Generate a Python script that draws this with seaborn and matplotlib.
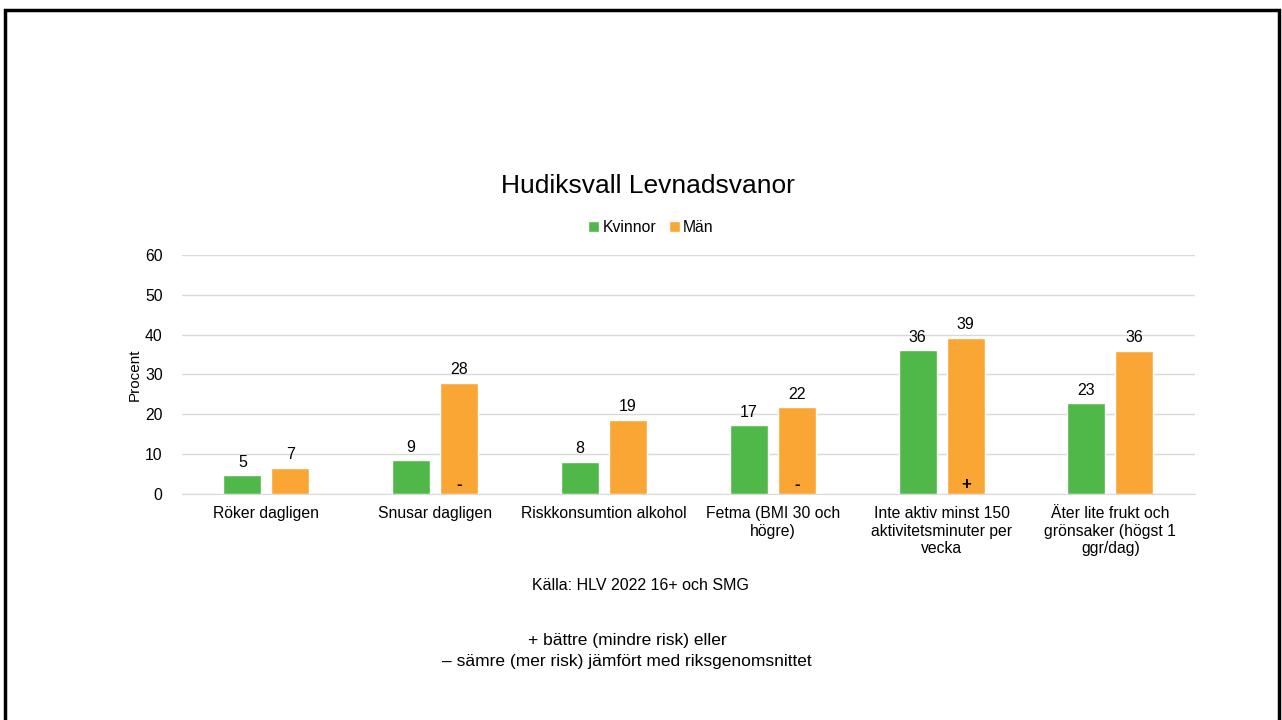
import pandas as pd
import matplotlib.pyplot as plt
import seaborn as sns
from matplotlib.patches import Rectangle

# Data
categories = [
    "Röker dagligen",
    "Snusar dagligen",
    "Riskkonsumtion alkohol",
    "Fetma (BMI 30 och\nhögre)",
    "Inte aktiv minst 150\naktivitetsminuter per\nvecka",
    "Äter lite frukt och\ngrönsaker (högst 1\nggr/dag)",
]
kvinnor = [4.7, 8.5, 8.0, 17.2, 36.0, 22.7]
man = [6.6, 27.9, 18.6, 21.8, 39.2, 35.9]
kvinnor_labels = ["5", "9", "8", "17", "36", "23"]
man_labels = ["7", "28", "19", "22", "39", "36"]
man_markers = ["", "-", "", "-", "+", ""]

green = "#50B848"
orange = "#F9A634"

data = pd.DataFrame({
    "Kategori": categories * 2,
    "Procent": kvinnor + man,
    "Kön": ["Kvinnor"] * len(categories) + ["Män"] * len(categories),
})

sns.set_style("white")
plt.rcParams["font.family"] = ["Liberation Sans", "DejaVu Sans"]
plt.rcParams["text.color"] = "black"
plt.rcParams["axes.labelcolor"] = "black"

fig = plt.figure(figsize=(12.82, 7.2), dpi=100)
ax = fig.add_axes([0.142, 0.314, 0.790, 0.332])

sns.barplot(data=data, x="Kategori", y="Procent", hue="Kön",
            palette=[green, orange], width=0.57, gap=0.21,
            saturation=1, ax=ax, legend=True)

ax.set_ylim(0, 60)
ax.set_yticks(range(0, 61, 10))
ax.set_xlim(-0.5, len(categories) - 0.5)
ax.yaxis.grid(True, color="#d9d9d9", linewidth=1)
ax.set_axisbelow(True)
for side in ["top", "right", "left"]:
    ax.spines[side].set_visible(False)
ax.spines["bottom"].set_color("#d9d9d9")
ax.tick_params(axis="both", length=0, labelsize=11.3, colors="black")
ax.tick_params(axis="y", pad=14)
ax.tick_params(axis="x", pad=9)
ax.set_xlabel("")
ax.set_ylabel("Procent", fontsize=11, labelpad=2)

# value labels
ax.bar_label(ax.containers[0], labels=kvinnor_labels, padding=4, fontsize=11.5)
ax.bar_label(ax.containers[1], labels=man_labels, padding=4, fontsize=11.5)

# +/- markers inside the Män bars
for bar, mark in zip(ax.containers[1], man_markers):
    if mark:
        ax.text(bar.get_x() + bar.get_width() / 2, 2.3, mark,
                ha="center", va="center", fontsize=12, fontweight="bold")

# legend above the plot
handles, labels = ax.get_legend_handles_labels()
ax.legend(handles, labels, loc="center", bbox_to_anchor=(0.463, 1.115),
          ncol=2, frameon=False, fontsize=11.3, handlelength=0.7,
          handleheight=0.7, handletextpad=0.2, columnspacing=0.8)

fig.text(648 / 1282, 1 - 186 / 720, "Hudiksvall Levnadsvanor", ha="center",
         va="center", fontsize=19)
fig.text(641 / 1282, 1 - 586 / 720, "Källa: HLV 2022 16+ och SMG",
         ha="center", va="center", fontsize=11.5)
fig.text(627 / 1282, 1 - 651 / 720,
         "+ bättre (mindre risk) eller\n– sämre (mer risk) jämfört med riksgenomsnittet",
         ha="center", va="center", fontsize=12.5, linespacing=1.45)

# slide border
fig.patches.append(Rectangle((5 / 1282, -0.05), 1274 / 1282, 1.05 - 10 / 720,
                             transform=fig.transFigure, fill=False,
                             edgecolor="black", linewidth=2.5))

fig.savefig("out.png", dpi=100)
